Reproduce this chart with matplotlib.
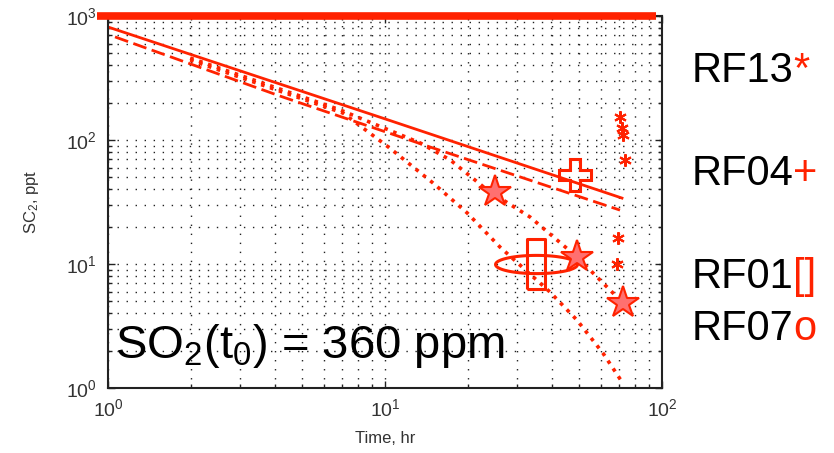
import numpy as np
import matplotlib
matplotlib.use('Agg')
import matplotlib.pyplot as plt
from matplotlib.path import Path

plt.rcParams['font.family'] = ['Liberation Sans', 'DejaVu Sans']
plt.rcParams['mathtext.fontset'] = 'custom'
plt.rcParams['mathtext.rm'] = 'Liberation Sans'
plt.rcParams['mathtext.it'] = 'Liberation Sans:italic'

# -------------------------------
# data (time in hr, SO2 in ppt)

limit_t = [0.91, 95.0]
limit_so2 = [1000, 1000]

solid_t = [1.0, 10.0, 71.7]
solid_so2 = [815, 148, 34.0]

dash_t = [1.06, 4.18, 14.5, 70.5]
dash_so2 = [678, 226, 88, 27.2]

dotA_t = [1.98, 6.88, 13.4, 17.2, 23.4, 33.4, 41.8, 49.3, 66.0, 72.3]
dotA_so2 = [458, 175, 94.6, 69.0, 39.5, 23.9, 15.6, 11.4, 5.94, 4.84]

dotB_t = [1.98, 7.05, 10.4, 14.9, 19.8, 26.0, 39.4, 49.3, 61.2, 71.7]
dotB_so2 = [442, 165, 86.1, 45.0, 25.8, 13.7, 5.94, 3.53, 1.91, 1.12]

rf13_t = [70.5, 71.7, 72.0, 73.5, 69.4, 68.8]
rf13_so2 = [153, 125, 110, 69, 16.2, 10.0]

rf04_t = [48.5]
rf04_so2 = [52.3]

rf01_t = [35.1]
rf01_so2 = [10.0]

rf07_t = [35.1]
rf07_so2 = [10.0]

star_t = [25.0, 49.3, 72.3]
star_so2 = [38.1, 11.4, 4.84]

flights = ['RF13', 'RF04', 'RF01', 'RF07']
flight_syms = ['*', '+', '[]', 'o']

red = '#ff2200'

# marker shapes
theta = np.linspace(0, 2*np.pi, 80)
ellipse_mk = Path(np.c_[4.5*np.cos(theta), np.sin(theta)])
rect_mk = Path([(-0.36, -1), (0.36, -1), (0.36, 1), (-0.36, 1), (-0.36, -1)])

fig = plt.figure(figsize=(8.34, 4.53), dpi=100)
ax = fig.add_axes([0.1295, 0.1435, 0.6643, 0.8212])

ax.set_xscale('log')
ax.set_yscale('log')
ax.set_xlim(1, 100)
ax.set_ylim(1, 1000)

ax.grid(True, which='both', color='#222222', linestyle=(0, (1, 5.5)), linewidth=1.0)

ax.plot(solid_t, solid_so2, color=red, lw=2)
ax.plot(dash_t, dash_so2, color=red, lw=2, linestyle=(0, (5, 2)))
ax.plot(dotA_t, dotA_so2, color=red, lw=2.6, linestyle=(0, (1, 1.6)))
ax.plot(dotB_t, dotB_so2, color=red, lw=2.6, linestyle=(0, (1, 1.6)))

ax.plot(rf13_t, rf13_so2, linestyle='none', marker=(6, 2, 0), ms=9, mec=red, mew=1.5)
ax.plot(rf04_t, rf04_so2, linestyle='none', marker='P', ms=23, mfc='none', mec=red, mew=2.2)
ax.plot(rf01_t, rf01_so2, linestyle='none', marker=rect_mk, ms=36, mfc='none', mec=red, mew=2.2)
ax.plot(rf07_t, rf07_so2, linestyle='none', marker=ellipse_mk, ms=59, mfc='none', mec=red, mew=2.2)
ax.plot(star_t, star_so2, linestyle='none', marker='*', ms=24, mfc='#ff7070', mec=red, mew=1.5)

ax.plot(limit_t, limit_so2, color=red, lw=5.5, solid_capstyle='butt', clip_on=False, zorder=5)

for sp in ax.spines.values():
    sp.set_linewidth(1.5)
    sp.set_color('#222222')

ax.tick_params(which='both', direction='in', top=True, right=True, colors='#222222',
               labelcolor='#333333', labelsize=14)
ax.tick_params(which='major', length=5, width=1)
ax.tick_params(which='minor', length=3, width=1)
ax.tick_params(axis='x', pad=7)
ax.tick_params(axis='y', pad=8)

ax.set_xlabel('Time, hr', fontsize=12, color='#333333', labelpad=8)
ax.set_ylabel('SC$_2$, ppt', fontsize=12, color='#333333', labelpad=18)

ax.text(0.013, 0.08, 'SO$_2$(t$_0$) = 360 ppm', transform=ax.transAxes,
        fontsize=34, va='baseline', ha='left', color='black', zorder=6)

label_y = [0.819, 0.592, 0.364, 0.249]
for name, sym, yy in zip(flights, flight_syms, label_y):
    t1 = fig.text(0.829, yy, name, fontsize=30, va='baseline', ha='left', color='black')
    ax.annotate(sym, xy=(1, 0), xycoords=t1, fontsize=30, va='bottom', ha='left',
                color=red, annotation_clip=False)

plt.savefig('out.png', dpi=100)
plt.close('all')
